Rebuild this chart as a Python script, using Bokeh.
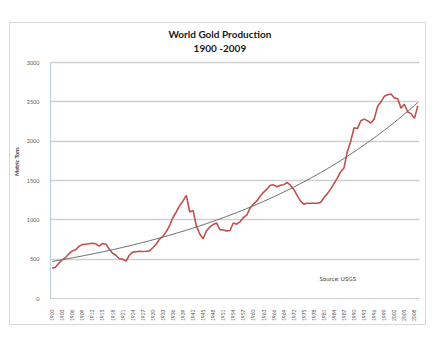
from bokeh.plotting import figure
from bokeh.models import Range1d, FixedTicker, Label, ColumnDataSource
from bokeh.embed import file_html
from bokeh.resources import INLINE
import numpy as np
import math

years = list(range(1900, 2010))
production = [
    386, 397, 450, 492, 520, 570, 605, 620, 665, 685,      # 1900-1909
    690, 695, 703, 695, 665, 700, 690, 630, 575, 550,      # 1910-1919
    505, 500, 475, 550, 590, 595, 600, 597, 600, 605,      # 1920-1929
    645, 690, 755, 790, 850, 925, 1030, 1100, 1180, 1240,  # 1930-1939
    1310, 1100, 1120, 920, 820, 760, 860, 910, 940, 960,   # 1940-1949
    875, 870, 860, 865, 960, 945, 975, 1030, 1060, 1150,   # 1950-1959
    1200, 1240, 1300, 1350, 1390, 1440, 1445, 1420, 1440, 1445,  # 1960-1969
    1475, 1440, 1390, 1310, 1240, 1200, 1210, 1210, 1210, 1210,  # 1970-1979
    1220, 1280, 1330, 1390, 1460, 1530, 1610, 1660, 1870, 2000,  # 1980-1989
    2170, 2160, 2260, 2280, 2260, 2230, 2280, 2440, 2500, 2570,  # 1990-1999
    2590, 2600, 2550, 2540, 2420, 2470, 2370, 2350, 2290, 2450,  # 2000-2009
]
tick_years = list(range(1900, 2010, 3))
y_ticks = [0, 500, 1000, 1500, 2000, 2500, 3000]
title1 = "World Gold Production"
title2 = "1900 -2009"
source_text = "Source:  USGS"
y_label = "Metric Tons"

# Exponential trendline (least squares on log values, as a spreadsheet does)
yrs = np.array(years, dtype=float)
vals = np.array(production, dtype=float)
b, a = np.polyfit(yrs - 1900, np.log(vals), 1)
trend = np.exp(a + b * (yrs - 1900))

FONT = "Lato"

# frame: 369 px wide, value axis 0..3000 over 236 px, with 38 px of headroom
# inside the frame for the two title lines
units_per_px = 3000 / 236
y_top = 3000 + 38 * units_per_px

p = figure(frame_width=369, frame_height=274, output_backend="svg",
           toolbar_location=None,
           x_range=Range1d(1899.5, 2009.5), y_range=Range1d(0, y_top),
           min_border_left=37, min_border_right=6, min_border_top=1,
           min_border_bottom=22, margin=(22, 0, 0, 9),
           styles={"border": "1px solid #D9D9D9"})
p.outline_line_color = None
p.background_fill_color = "white"
p.border_fill_color = "white"

src = ColumnDataSource(dict(x=years, y=production, t=trend))
p.line("x", "y", source=src, line_color="#C0504D", line_width=1.6)
p.line("x", "t", source=src, line_color="#6E6E6E", line_width=1.0)

# axes
p.xaxis.ticker = FixedTicker(ticks=tick_years)
p.xaxis.major_label_orientation = math.pi / 2
p.yaxis.ticker = FixedTicker(ticks=y_ticks)
p.yaxis.bounds = (0, 3000)
for ax in (p.xaxis[0], p.yaxis[0]):
    ax.major_tick_line_color = None
    ax.minor_tick_line_color = None
    ax.major_label_text_font = FONT
    ax.major_label_text_color = "#595959"
    ax.major_label_standoff = 5
p.xaxis.major_label_text_font_size = "5px"
p.yaxis.major_label_text_font_size = "5.5px"
p.xaxis.axis_line_color = "#D0D0D0"
p.yaxis.axis_line_color = "#B9CDE5"
p.yaxis.axis_line_width = 1.2
p.yaxis.axis_label = y_label
p.yaxis.axis_label_text_font = FONT
p.yaxis.axis_label_text_font_size = "5.5px"
p.yaxis.axis_label_text_font_style = "bold"
p.yaxis.axis_label_text_color = "#404040"
p.yaxis.axis_label_standoff = 4

p.xgrid.grid_line_color = None
p.ygrid.grid_line_color = "#D0D0D0"
p.ygrid.grid_line_width = 1.3

# titles and source note
p.add_layout(Label(x=1950.0, y=3356, text=title1, text_align="center",
                   text_baseline="middle", text_font=FONT, text_font_size="10px",
                   text_font_style="bold", text_color="#1A1A1A"))
p.add_layout(Label(x=1950.0, y=3178, text=title2, text_align="center",
                   text_baseline="middle", text_font=FONT, text_font_size="10px",
                   text_font_style="bold", text_color="#1A1A1A"))
p.add_layout(Label(x=1979.7, y=250, text=source_text, text_align="left",
                   text_baseline="middle", text_font=FONT, text_font_size="6px",
                   text_color="#404040"))

open("out.html", "w").write(file_html(p, INLINE))
